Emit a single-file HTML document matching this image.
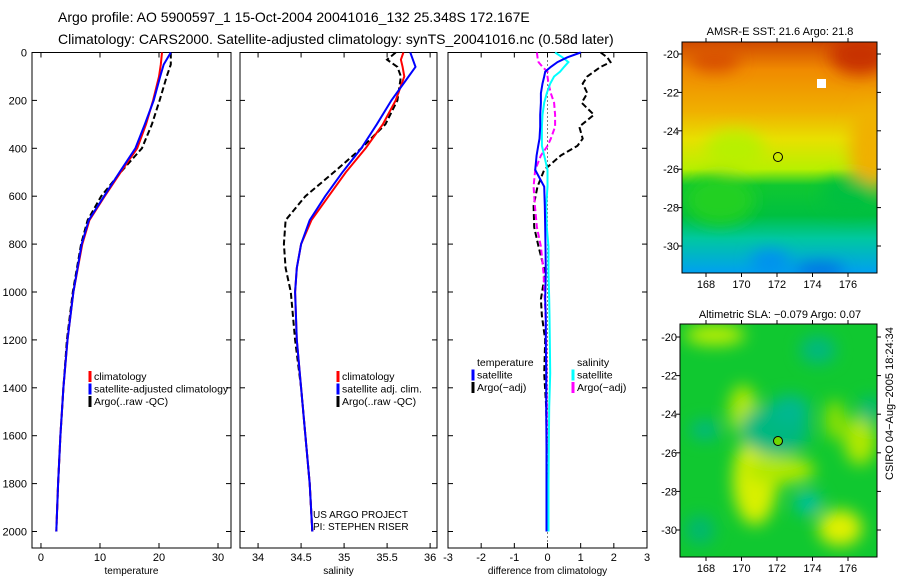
<!DOCTYPE html>
<html><head><meta charset="utf-8"><style>
body{margin:0;background:#fff;}
svg{display:block;font-family:"Liberation Sans",sans-serif;}
</style></head><body>
<svg id="chart" width="900" height="580" xmlns="http://www.w3.org/2000/svg">
<defs>
<linearGradient id="sstg" x1="0" y1="0" x2="0" y2="1">
<stop offset="0" stop-color="#d04a00"/><stop offset="0.12" stop-color="#f08a00"/><stop offset="0.3" stop-color="#f0b000"/><stop offset="0.42" stop-color="#e8e000"/><stop offset="0.55" stop-color="#b8f000"/><stop offset="0.62" stop-color="#10c830"/><stop offset="0.75" stop-color="#00c040"/><stop offset="0.85" stop-color="#00c8a0"/><stop offset="1" stop-color="#00a0f0"/>
</linearGradient>
<filter id="blur"><feGaussianBlur stdDeviation="8"/></filter>
<clipPath id="c1"><rect x="682" y="42" width="195" height="231"/></clipPath>
<clipPath id="c2"><rect x="680" y="324" width="197" height="233"/></clipPath>
</defs>
<text x="58" y="22" font-size="14">Argo profile: AO 5900597_1 15-Oct-2004 20041016_132 25.348S 172.167E</text>
<text x="58" y="44" font-size="14">Climatology: CARS2000. Satellite-adjusted climatology: synTS_20041016.nc (0.58d later)</text>
<g id="panels"></g>
<!-- SST map -->
<g>
<rect x="682" y="42" width="195" height="231" fill="url(#sstg)"/>
<g clip-path="url(#c1)" filter="url(#blur)">
<ellipse cx="860" cy="55" rx="30" ry="20" fill="#c83000"/>
<ellipse cx="715" cy="60" rx="25" ry="12" fill="#d85000"/>
<ellipse cx="870" cy="150" rx="20" ry="45" fill="#f0b000"/>
<ellipse cx="735" cy="150" rx="30" ry="20" fill="#b8f000"/>
<ellipse cx="720" cy="200" rx="35" ry="25" fill="#20d020"/>
<ellipse cx="850" cy="195" rx="30" ry="18" fill="#00c040"/>
<ellipse cx="770" cy="262" rx="20" ry="12" fill="#0090f0"/>
<ellipse cx="820" cy="270" rx="25" ry="6" fill="#0060e0"/>
</g>
<rect x="817" y="79" width="9" height="9" fill="#fff"/>
<circle cx="778" cy="157" r="4.5" fill="none" stroke="#000"/>
<rect x="682" y="42" width="195" height="231" fill="none" stroke="#000"/>
<text x="780" y="35" font-size="11" text-anchor="middle">AMSR-E SST: 21.6 Argo: 21.8</text>
</g>
<!-- SLA map -->
<g>
<rect x="680" y="324" width="197" height="233" fill="#10c830"/>
<g clip-path="url(#c2)" filter="url(#blur)">
<ellipse cx="755" cy="480" rx="22" ry="45" fill="#d8f000"/>
<ellipse cx="780" cy="470" rx="35" ry="14" fill="#b0e800"/>
<ellipse cx="840" cy="528" rx="22" ry="18" fill="#e0f000"/>
<ellipse cx="743" cy="410" rx="14" ry="25" fill="#b0e800"/>
<ellipse cx="860" cy="440" rx="16" ry="25" fill="#b0e800"/>
<ellipse cx="835" cy="420" rx="10" ry="20" fill="#90e000"/>
<ellipse cx="775" cy="430" rx="35" ry="25" fill="#00b880"/>
<ellipse cx="790" cy="410" rx="20" ry="15" fill="#00b890"/>
<ellipse cx="818" cy="350" rx="18" ry="14" fill="#00b880"/>
<ellipse cx="808" cy="503" rx="14" ry="12" fill="#00c0a0"/>
<ellipse cx="870" cy="410" rx="10" ry="14" fill="#00b880"/>
<ellipse cx="705" cy="430" rx="15" ry="10" fill="#00b880"/>
<ellipse cx="715" cy="335" rx="30" ry="10" fill="#c0f000"/>
<ellipse cx="700" cy="530" rx="15" ry="15" fill="#00b870"/>
</g>
<circle cx="778" cy="441" r="4.5" fill="#70d800" stroke="#000"/>
<rect x="680" y="324" width="197" height="233" fill="none" stroke="#000"/>
<text x="780" y="318" font-size="11" text-anchor="middle">Altimetric SLA: −0.079 Argo: 0.07</text>
</g>
<text transform="translate(893,480) rotate(-90)" font-size="11">CSIRO 04−Aug−2005 18:24:34</text>
<g id="mapaxes"></g>
</svg>
<script>
// ---------- data ----------
const depthTicks=[0,200,400,600,800,1000,1200,1400,1600,1800,2000];
const tempTicks=[0,10,20,30];
const salTicks=[34,34.5,35,35.5,36];
const diffTicks=[-3,-2,-1,0,1,2,3];
const tDepth=[0,50,100,200,300,400,500,600,700,800,1000,1200,1400,1600,1800,2000];
const tClim=[20.5,20.3,20.0,19.0,17.8,16.3,13.5,10.8,8.2,7.0,5.5,4.5,3.8,3.3,2.9,2.6];
const tSat=[22.0,20.8,20.2,19.1,17.6,16.0,13.3,10.7,8.1,6.9,5.5,4.5,3.8,3.3,2.9,2.6];
const tArgo=[22.0,22.0,21.3,20.1,18.8,17.1,13.5,10.2,7.9,6.8,5.4,4.4,3.8,3.3,2.9,2.6];
const sDepth=[0,30,60,100,200,300,400,500,600,700,800,900,1000,1200,1400,1600,1800,2000];
const sClim=[35.69,35.66,35.68,35.7,35.6,35.45,35.25,35.02,34.82,34.62,34.5,34.45,34.43,34.45,34.5,34.55,34.6,34.63];
const sSat=[35.77,35.8,35.83,35.75,35.55,35.38,35.2,34.98,34.78,34.6,34.5,34.45,34.43,34.45,34.5,34.55,34.6,34.63];
const sArgo=[35.6,35.5,35.62,35.66,35.62,35.48,35.2,34.88,34.55,34.32,34.3,34.32,34.38,34.43,34.5,34.55,34.6,34.63];
const dDepth=[0,20,40,60,80,100,130,170,210,260,310,360,390,430,490,560,640,730,810,920,1030,1100,1200,1340,1480,1650,1800,2000];
const dTempSat=[1.0,0.6,0.3,0.1,-0.07,-0.1,-0.15,-0.2,-0.2,-0.22,-0.22,-0.24,-0.28,-0.33,-0.37,-0.1,-0.08,-0.07,-0.06,-0.05,-0.07,-0.05,-0.05,-0.04,-0.04,-0.03,-0.03,-0.03];
const dTempArgo=[1.6,1.8,1.9,1.6,1.4,1.2,1.06,1.2,1.03,1.4,0.96,1.06,0.9,0.4,-0.1,-0.3,-0.42,-0.4,-0.27,-0.07,-0.2,-0.17,-0.07,-0.1,-0.04,-0.02,-0.02,-0.02];
const dSalSat=[0.23,0.45,0.63,0.5,0.38,0.2,0.08,-0.02,-0.1,-0.15,-0.17,-0.17,-0.17,-0.1,0.0,0.0,-0.04,-0.02,0.03,0.03,0.05,0.06,0.07,0.08,0.05,0.04,0.03,0.03];
const dSalArgo=[-0.32,-0.3,-0.27,-0.15,0.0,0.0,0.03,0.1,0.2,0.23,0.23,0.1,0.0,-0.2,-0.37,-0.42,-0.38,-0.32,-0.2,-0.12,-0.08,-0.06,-0.04,-0.03,-0.02,-0.02,-0.02,-0.02];
const latTicks=[-20,-22,-24,-26,-28,-30];
const lonTicks=[168,170,172,174,176];

const NS='http://www.w3.org/2000/svg';
const top0=52.5, pxPerM=0.2395;
const yD=d=>top0+d*pxPerM;
function mk(tag,attrs,parent){const e=document.createElementNS(NS,tag);for(const k in attrs)e.setAttribute(k,attrs[k]);parent.appendChild(e);return e;}
const G=document.getElementById('panels');
function panel(name,x0,x1,v0,v1,ticks,xlabel,fmt){
  const g=mk('g',{},G);
  
  
  const sx=v=>x0+(v-v0)/(v1-v0)*(x1-x0);
  const r=mk('rect',{x:x0,y:top0,width:x1-x0,height:548-top0,fill:'none',stroke:'#000'},g);
  
  
  depthTicks.forEach(d=>{const y=yD(d);
    mk('line',{x1:x0,x2:x0+5,y1:y,y2:y,stroke:'#000'},g);
    mk('line',{x1:x1,x2:x1-5,y1:y,y2:y,stroke:'#000'},g);});
  ticks.forEach(v=>{const x=sx(v);
    mk('line',{x1:x,x2:x,y1:548,y2:543,stroke:'#000'},g);
    mk('line',{x1:x,x2:x,y1:top0,y2:top0+5,stroke:'#000'},g);
    const t=mk('text',{x:x,y:561,'font-size':11,'text-anchor':'middle'},g);t.textContent=fmt(v);
    
    });
  const xl=mk('text',{x:(x0+x1)/2,y:574,'font-size':10,'text-anchor':'middle'},g);xl.textContent=xlabel;
  
  
  return {g,sx};
}
function line(p,depths,vals,color,dash,w,name){
  const pts=depths.map((d,i)=>p.sx(vals[i]).toFixed(1)+','+yD(d).toFixed(1)).join(' ');
  const l=mk('polyline',{points:pts,fill:'none',stroke:color,'stroke-width':w,'stroke-dasharray':dash||'none'},p.g);
  
  
}
function legend(p,x,y,items){
  items.forEach((it,i)=>{const yy=y+i*12.5;
    if(it.c){const m=mk('line',{x1:x,x2:x,y1:yy-9,y2:yy+2,stroke:it.c,'stroke-width':3},p.g);
      
      }
    const t=mk('text',{x:x+4,y:yy,'font-size':10.5},p.g);t.textContent=it.t;
    
    });
}
// depth labels
depthTicks.forEach(d=>{const t=mk('text',{x:27,y:yD(d)+4,'font-size':11,'text-anchor':'end'},G);t.textContent=d;
  
  });

const p1=panel('temperature-panel',32,231,-1.52,32.2,tempTicks,'temperature',v=>v);
line(p1,tDepth,tArgo,'#000','6,3',2,'argo-temperature-line');
line(p1,tDepth,tClim,'#f00',null,2,'climatology-temperature-line');
line(p1,tDepth,tSat,'#00f',null,2,'satellite-temperature-line');
legend(p1,90,380,[{c:'#f00',t:'climatology'},{c:'#00f',t:'satellite-adjusted climatology'},{c:'#000',t:'Argo(..raw -QC)'}]);

const p2=panel('salinity-panel',240,437,33.79,36.08,salTicks,'salinity',v=>v);
line(p2,sDepth,sArgo,'#000','6,3',2,'argo-salinity-line');
line(p2,sDepth,sClim,'#f00',null,2,'climatology-salinity-line');
line(p2,sDepth,sSat,'#00f',null,2,'satellite-salinity-line');
legend(p2,338,380,[{c:'#f00',t:'climatology'},{c:'#00f',t:'satellite adj. clim.'},{c:'#000',t:'Argo(..raw -QC)'}]);
[['US ARGO PROJECT',518],['PI: STEPHEN RISER',530]].forEach(a=>{const t=mk('text',{x:313,y:a[1],'font-size':10},p2.g);t.textContent=a[0];
  
  });

const p3=panel('difference-panel',448,647,-3,3,diffTicks,'difference from climatology',v=>v);
const zl=mk('line',{x1:p3.sx(0),x2:p3.sx(0),y1:top0,y2:548,stroke:'#000','stroke-dasharray':'1,3'},p3.g);


line(p3,dDepth,dTempArgo,'#000','6,3',2,'argo-temperature-diff');
line(p3,dDepth,dSalArgo,'#f0f','6,3',2,'argo-salinity-diff');
line(p3,dDepth,dSalSat,'#0ff',null,2,'satellite-salinity-diff');
line(p3,dDepth,dTempSat,'#00f',null,2,'satellite-temperature-diff');
legend(p3,473,366,[{t:'temperature'},{c:'#00f',t:'satellite'},{c:'#000',t:'Argo(−adj)'}]);
legend(p3,573,366,[{t:'salinity'},{c:'#0ff',t:'satellite'},{c:'#f0f',t:'Argo(−adj)'}]);

// map axes
const MA=document.getElementById('mapaxes');
function mapAxes(x0,x1,y0,y1,lat20,lat30){
  const ly=l=>lat20+(l+20)/(-10)*(lat30-lat20);
  const lx=l=>706+(l-168)*17.75;
  latTicks.forEach(l=>{const y=ly(l);
    mk('line',{x1:x0-4,x2:x0,y1:y,y2:y,stroke:'#000'},MA);
    mk('line',{x1:x1,x2:x1+4,y1:y,y2:y,stroke:'#000'},MA);
    const t=mk('text',{x:x0-3,y:y+4,'font-size':11,'text-anchor':'end'},MA);t.textContent=l;
    
    });
  lonTicks.forEach(l=>{const x=lx(l);
    mk('line',{x1:x,x2:x,y1:y1,y2:y1+4,stroke:'#000'},MA);
    mk('line',{x1:x,x2:x,y1:y0,y2:y0-4,stroke:'#000'},MA);
    const t=mk('text',{x:x,y:y1+15,'font-size':11,'text-anchor':'middle'},MA);t.textContent=l;
    
    });
}
mapAxes(682,877,42,273,54,246);
mapAxes(680,877,324,557,337,530);
</script>
</body></html>
